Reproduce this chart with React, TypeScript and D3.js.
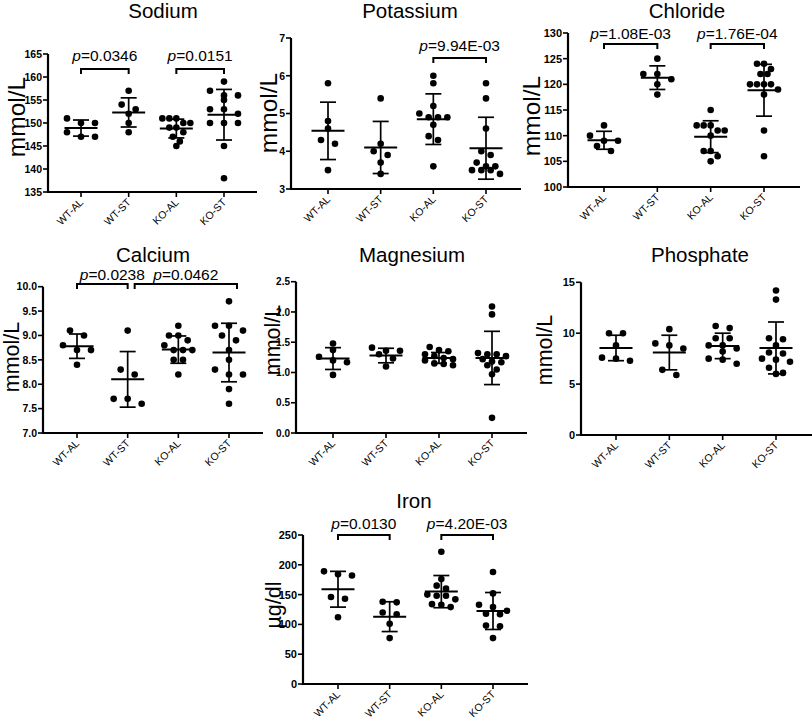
import React from 'react';
import * as d3 from 'd3';

const groups = ['WT-AL', 'WT-ST', 'KO-AL', 'KO-ST'];

// ---- Sodium (mmol/L)
const sodiumValues = [
  [151, 150, 150, 148, 147, 147],
  [157, 154, 153, 152, 150, 148],
  [151, 151, 151, 150, 150, 149, 149, 148, 147, 146, 145],
  [159, 157, 156, 156, 155, 153, 153, 152, 150, 150, 150, 145, 138],
];
const sodiumMean = [148.9, 152.3, 148.8, 151.8];
const sodiumSD = [1.75, 3.17, 2.04, 5.5];
const sodiumTicks = [135, 140, 145, 150, 155, 160, 165];
const sodiumPairs = [[0, 1], [2, 3]];
const sodiumP = ['0.0346', '0.0151'];

// ---- Potassium (mmol/L)
const potassiumValues = [
  [5.8, 4.8, 4.6, 4.3, 4.2, 3.5],
  [5.4, 4.2, 4.0, 3.9, 3.7, 3.4],
  [6.0, 5.8, 5.2, 5.0, 4.9, 4.9, 4.9, 4.7, 4.4, 4.3, 3.6],
  [5.8, 5.4, 4.6, 4.0, 3.9, 3.7, 3.6, 3.6, 3.5, 3.5, 3.5, 3.4],
];
const potassiumMean = [4.54, 4.1, 4.85, 4.08];
const potassiumSD = [0.76, 0.69, 0.67, 0.82];
const potassiumTicks = [3, 4, 5, 6, 7];
const potassiumPairs = [[2, 3]];
const potassiumP = ['9.94E-03'];

// ---- Chloride (mmol/L)
const chlorideValues = [
  [112, 110, 109, 109, 108, 107],
  [125, 122, 122, 121, 120, 118],
  [115, 112, 112, 112, 111, 111, 110, 107, 107, 106, 105],
  [124, 124, 123, 122, 122, 120, 120, 120, 120, 119, 118, 111, 106],
];
const chlorideMean = [109.1, 121.3, 109.8, 118.85];
const chlorideSD = [1.75, 2.3, 3.1, 5.05];
const chlorideTicks = [100, 105, 110, 115, 120, 125, 130];
const chloridePairs = [[0, 1], [2, 3]];
const chlorideP = ['1.08E-03', '1.76E-04'];

// ---- Calcium (mmol/L)
const calciumValues = [
  [9.1, 9.0, 8.8, 8.7, 8.7, 8.4],
  [9.1, 8.3, 8.2, 7.7, 7.7, 7.6],
  [9.2, 9.0, 9.0, 8.9, 8.8, 8.7, 8.7, 8.7, 8.5, 8.5, 8.2],
  [9.7, 9.2, 9.2, 9.1, 9.0, 8.9, 8.7, 8.5, 8.3, 8.2, 8.2, 7.9, 7.6],
];
const calciumMean = [8.78, 8.1, 8.71, 8.65];
const calciumSD = [0.25, 0.57, 0.28, 0.6];
const calciumTicks = [7.0, 7.5, 8.0, 8.5, 9.0, 9.5, 10.0];
const calciumPairs = [[0, 1], [1, 3]];
const calciumP = ['0.0238', '0.0462'];

// ---- Magnesium (mmol/L)
const magnesiumValues = [
  [1.48, 1.37, 1.26, 1.2, 1.17, 0.96],
  [1.41, 1.36, 1.36, 1.3, 1.23, 1.1],
  [1.42, 1.37, 1.35, 1.3, 1.27, 1.24, 1.22, 1.2, 1.15, 1.14, 1.12],
  [2.09, 1.96, 1.32, 1.3, 1.3, 1.27, 1.22, 1.18, 1.17, 1.12, 1.05, 0.97, 0.25],
];
const magnesiumMean = [1.23, 1.28, 1.24, 1.24];
const magnesiumSD = [0.18, 0.12, 0.09, 0.44];
const magnesiumTicks = [0, 0.5, 1.0, 1.5, 2.0, 2.5];

// ---- Phosphate (mmol/L)
const phosphateValues = [
  [10.0, 10.0, 8.8, 7.6, 7.5, 7.3],
  [10.4, 9.0, 8.8, 8.5, 6.4, 5.9],
  [10.7, 10.5, 9.5, 9.5, 8.8, 8.8, 8.5, 8.2, 7.5, 7.4, 7.0],
  [14.2, 13.3, 9.5, 9.4, 8.8, 8.1, 8.0, 7.5, 7.4, 7.2, 6.6, 6.1, 6.0],
];
const phosphateMean = [8.55, 8.1, 8.75, 8.55];
const phosphateSD = [1.25, 1.7, 1.25, 2.55];
const phosphateTicks = [0, 5, 10, 15];

// ---- Iron (µg/dl)
const ironValues = [
  [189, 184, 182, 146, 143, 112],
  [138, 137, 120, 117, 101, 77],
  [222, 176, 165, 160, 150, 148, 148, 142, 134, 133, 129],
  [188, 152, 133, 129, 123, 118, 117, 98, 97, 77],
];
const ironMean = [159, 113, 155, 122.5];
const ironSD = [30, 25, 27, 31];
const ironTicks = [0, 50, 100, 150, 200, 250];
const ironPairs = [[0, 1], [2, 3]];
const ironP = ['0.0130', '4.20E-03'];

const FONT = '"Liberation Sans", Arial, Helvetica, sans-serif';

const int = (d: number) => String(d);
const one = (d: number) => d.toFixed(1);

type PanelCfg = {
  title: string; unit: string;
  values: number[][]; mean: number[]; sd: number[];
  ticks: number[]; fmt: (d: number) => string;
  pairs: number[][]; pLabels: string[];
  left: number; right: number; top: number; bottom: number; cat0: number; cat3: number;
  titleX: number; titleY: number; unitX: number; unitY: number; unitSize: number; tickSize: number;
  bracketY: number; textGap: number; bracketShift?: number[][];
};

const panels: PanelCfg[] = [
  { title: 'Sodium', unit: 'mmol/L', values: sodiumValues, mean: sodiumMean, sd: sodiumSD, ticks: sodiumTicks, fmt: int,
    pairs: sodiumPairs, pLabels: sodiumP,
    left: 48, right: 257, top: 54, bottom: 192, cat0: 81, cat3: 224,
    titleX: 163, titleY: 18, unitX: 25, unitY: 117, unitSize: 24.5, tickSize: 10.5, bracketY: 69, textGap: 8 },
  { title: 'Potassium', unit: 'mmol/L', values: potassiumValues, mean: potassiumMean, sd: potassiumSD, ticks: potassiumTicks, fmt: int,
    pairs: potassiumPairs, pLabels: potassiumP,
    left: 291, right: 521, top: 38, bottom: 189, cat0: 328, cat3: 486,
    titleX: 410, titleY: 18, unitX: 277, unitY: 113, unitSize: 24.5, tickSize: 10.5, bracketY: 58, textGap: 7 },
  { title: 'Chloride', unit: 'mmol/L', values: chlorideValues, mean: chlorideMean, sd: chlorideSD, ticks: chlorideTicks, fmt: int,
    pairs: chloridePairs, pLabels: chlorideP,
    left: 568, right: 800, top: 33, bottom: 187, cat0: 604, cat3: 764,
    titleX: 687, titleY: 18, unitX: 540, unitY: 116, unitSize: 24.5, tickSize: 11, bracketY: 44, textGap: 5 },
  { title: 'Calcium', unit: 'mmol/L', values: calciumValues, mean: calciumMean, sd: calciumSD, ticks: calciumTicks, fmt: one,
    pairs: calciumPairs, pLabels: calciumP,
    left: 43, right: 263, top: 286.7, bottom: 433, cat0: 77, cat3: 229,
    titleX: 153, titleY: 262, unitX: 19, unitY: 357, unitSize: 21.5, tickSize: 10.5, bracketY: 284, textGap: 4.5,
    bracketShift: [[0, 0, 10], [7, 8, 0]] },
  { title: 'Magnesium', unit: 'mmol/L', values: magnesiumValues, mean: magnesiumMean, sd: magnesiumSD, ticks: magnesiumTicks, fmt: one,
    pairs: [], pLabels: [],
    left: 296, right: 527, top: 281.7, bottom: 433, cat0: 333, cat3: 492,
    titleX: 412, titleY: 262, unitX: 280, unitY: 340, unitSize: 21.5, tickSize: 10, bracketY: 0, textGap: 0 },
  { title: 'Phosphate', unit: 'mmol/L', values: phosphateValues, mean: phosphateMean, sd: phosphateSD, ticks: phosphateTicks, fmt: int,
    pairs: [], pLabels: [],
    left: 581, right: 812, top: 282.3, bottom: 435, cat0: 616, cat3: 776,
    titleX: 700, titleY: 262, unitX: 552, unitY: 350, unitSize: 21.5, tickSize: 11, bracketY: 0, textGap: 0 },
  { title: 'Iron', unit: 'µg/dl', values: ironValues, mean: ironMean, sd: ironSD, ticks: ironTicks, fmt: int,
    pairs: ironPairs, pLabels: ironP,
    left: 303, right: 528, top: 535, bottom: 684, cat0: 338, cat3: 493,
    titleX: 414, titleY: 508, unitX: 281, unitY: 605, unitSize: 21.5, tickSize: 11, bracketY: 535, textGap: 6 },
];

function layoutDots(vals: number[], y: (v: number) => number) {
  const pts = vals.map((v) => ({ v, y: y(v) })).sort((a, b) => a.y - b.y);
  const rows: { startY: number; pts: { v: number; y: number }[] }[] = [];
  let cur: any = null;
  for (const p of pts) {
    if (cur && p.y - cur.startY < 6) cur.pts.push(p);
    else { cur = { startY: p.y, pts: [p] }; rows.push(cur); }
  }
  const maxN = d3.max(rows, (r) => r.pts.length) || 1;
  const dx = maxN > 1 ? Math.min(28 / (maxN - 1), 14) : 0;
  const out: { y: number; off: number }[] = [];
  rows.forEach((r) => {
    const n = r.pts.length;
    r.pts.forEach((p, i) => out.push({ y: p.y, off: (i - (n - 1) / 2) * dx }));
  });
  return out;
}

function Panel({ p }: { p: PanelCfg }) {
  const dom = [p.ticks[0], p.ticks[p.ticks.length - 1]];
  const y = d3.scaleLinear().domain(dom).range([p.bottom, p.top]);
  const x = d3.scalePoint<string>().domain(groups).range([p.cat0, p.cat3]);
  return (
    <g fontFamily={FONT}>
      <text x={p.titleX} y={p.titleY} textAnchor="middle" fontSize={20.5}>{p.title}</text>
      <text transform={`translate(${p.unitX},${p.unitY}) rotate(-90)`} textAnchor="middle" fontSize={p.unitSize}>{p.unit}</text>
      {/* y axis */}
      <line x1={p.left} x2={p.left} y1={p.bottom + 1} y2={p.top} stroke="#000" strokeWidth={2.2} />
      {p.ticks.map((t) => (
        <g key={t}>
          <line x1={p.left - 5} x2={p.left} y1={y(t)} y2={y(t)} stroke="#000" strokeWidth={1.6} />
          <text x={p.left - 6} y={y(t)} dy="0.36em" textAnchor="end" fontSize={p.tickSize} fontWeight="bold">{p.fmt(t)}</text>
        </g>
      ))}
      {/* x axis */}
      <line x1={p.left - 1} x2={p.right} y1={p.bottom} y2={p.bottom} stroke="#000" strokeWidth={2.2} />
      {groups.map((g) => (
        <g key={g}>
          <line x1={x(g)!} x2={x(g)!} y1={p.bottom} y2={p.bottom + 5} stroke="#000" strokeWidth={1.6} />
          <text transform={`translate(${x(g)! + 3},${p.bottom + 11}) rotate(-45)`} textAnchor="end" fontSize={10.5}>{g}</text>
        </g>
      ))}
      {/* dots & error bars */}
      {groups.map((g, gi) => {
        const cx = x(g)!;
        const dots = layoutDots(p.values[gi], y);
        const m = p.mean[gi], s = p.sd[gi];
        return (
          <g key={g}>
            {dots.map((d, i) => <circle key={i} cx={cx + d.off} cy={d.y} r={3.3} fill="#000" />)}
            <line x1={cx} x2={cx} y1={y(m - s)} y2={y(m + s)} stroke="#000" strokeWidth={1.7} />
            <line x1={cx - 8} x2={cx + 8} y1={y(m + s)} y2={y(m + s)} stroke="#000" strokeWidth={1.7} />
            <line x1={cx - 8} x2={cx + 8} y1={y(m - s)} y2={y(m - s)} stroke="#000" strokeWidth={1.7} />
            <line x1={cx - 16.5} x2={cx + 16.5} y1={y(m)} y2={y(m)} stroke="#000" strokeWidth={2} />
          </g>
        );
      })}
      {/* significance brackets */}
      {p.pairs.map((pr, i) => {
        const sh = p.bracketShift ? p.bracketShift[i] : [0, 0, 0];
        const x1 = x(groups[pr[0]])! + sh[0];
        const x2 = x(groups[pr[1]])! + sh[1];
        const by = p.bracketY;
        return (
          <g key={i}>
            <path d={`M${x1},${by + 5}V${by}H${x2}V${by + 5}`} fill="none" stroke="#000" strokeWidth={2} />
            <text x={(x1 + x2) / 2 + sh[2]} y={by - p.textGap} textAnchor="middle" fontSize={15.5}>
              <tspan fontStyle="italic">p</tspan>={p.pLabels[i]}
            </text>
          </g>
        );
      })}
    </g>
  );
}

export default function App() {
  return (
    <svg width={812} height={728} style={{ position: 'absolute', left: 0, top: 0, background: '#fff' }}>
      <rect width={812} height={728} fill="#fff" />
      {panels.map((p) => <Panel key={p.title} p={p} />)}
    </svg>
  );
}
